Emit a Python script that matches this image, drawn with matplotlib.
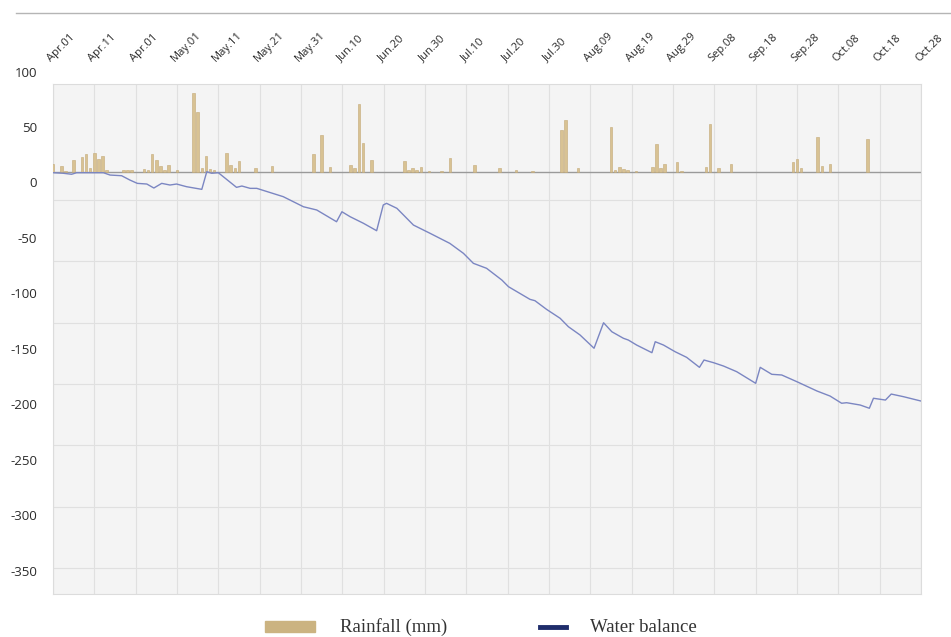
import matplotlib
matplotlib.use("Agg")
from matplotlib import pyplot as plt
from matplotlib.patches import Rectangle
from matplotlib.lines import Line2D
import matplotlib.transforms as mtransforms

# tick labels along the top, one every 10 days starting Apr.01
date_labels = ["Apr.01", "Apr.11", "Apr.01", "May.01", "May.11", "May.21", "May.31",
               "Jun.10", "Jun.20", "Jun.30", "Jul.10", "Jul.20", "Jul.30", "Aug.09",
               "Aug.19", "Aug.29", "Sep.08", "Sep.18", "Sep.28", "Oct.08", "Oct.18", "Oct.28"]
label_days = [i * 10 for i in range(len(date_labels))]

y_labels = [100, 50, 0, -50, -100, -150, -200, -250, -300, -350]

# daily rainfall (mm), day 0 = Apr.01
rain_days = [0, 2, 3, 5, 7, 8, 9, 10, 11, 12, 13, 17, 18, 19, 22, 23, 24, 25, 26, 27, 28, 30,
             34, 35, 36, 37, 38, 39, 42, 43, 44, 45, 49, 53, 63, 65, 67, 72, 73, 74, 75, 77,
             85, 86, 87, 88, 89, 91, 94, 96, 102, 108, 112, 116, 123, 124, 127, 135, 136, 137,
             138, 139, 141, 145, 146, 147, 148, 151, 152, 158, 159, 161, 164, 179, 180, 181,
             185, 186, 188, 197]
rain_mm = [7.2, 5.9, 1.4, 11.1, 14.2, 16.5, 4.2, 17.8, 12.0, 14.4, 1.8, 1.8, 1.8, 1.8, 3.0, 2.0,
           16.2, 10.8, 5.7, 2.1, 6.6, 1.8, 71.2, 54.0, 3.6, 14.7, 2.7, 2.4, 17.1, 6.6, 3.6, 10.2,
           3.6, 6.0, 16.5, 33.7, 4.8, 6.6, 4.2, 61.6, 26.1, 11.1, 10.5, 2.1, 3.6, 2.1, 4.8, 1.2,
           1.2, 13.2, 6.6, 3.9, 1.8, 1.5, 38.2, 47.2, 4.2, 40.6, 1.8, 5.1, 2.7, 2.4, 1.2, 4.8,
           25.5, 3.6, 7.5, 9.6, 1.3, 4.8, 43.3, 3.6, 7.5, 9.6, 12.0, 3.6, 32.2, 6.0, 7.2, 29.8]

# cumulative water balance
wb_days = [0, 2.5, 4.5, 5.7, 12.2, 13.8, 16.6, 18.6, 20.4, 22.7, 24.4, 26.3, 28.3, 29.9, 32.3,
           36.0, 37.2, 38.4, 40.0, 42.0, 44.4, 45.7, 47.7, 49.3, 55.7, 60.6, 63.8, 68.6, 69.9,
           71.9, 75.1, 78.3, 79.9, 80.7, 83.2, 87.2, 91.2, 96.0, 99.3, 101.7, 104.9, 108.6,
           110.2, 115.4, 116.6, 119.4, 122.7, 124.7, 127.5, 130.9, 133.2, 135.2, 138.0, 139.2,
           141.2, 144.9, 145.7, 147.7, 150.5, 153.3, 156.4, 157.5, 159.8, 162.2, 165.4, 170.0,
           171.1, 173.9, 176.3, 180.0, 184.8, 188.0, 190.8, 192.0, 195.3, 197.5, 198.5, 201.4,
           202.8, 205.8, 210.0]
wb_values = [10.1, 9.6, 8.7, 10.1, 10.1, 8.0, 7.4, 3.5, 0.5, -0.1, -3.7, 0.5, -1.0, -0.1, -2.5,
             -4.9, 11.0, 9.6, 10.1, 4.1, -3.1, -1.9, -4.0, -4.0, -11.5, -20.6, -23.5, -34.1,
             -25.1, -29.6, -35.5, -42.2, -19.0, -17.5, -22.0, -37.1, -44.5, -53.6, -62.6, -71.6,
             -76.1, -86.7, -92.7, -104.1, -105.3, -113.1, -121.2, -128.8, -136.2, -148.2,
             -125.2, -133.3, -139.2, -140.8, -145.3, -152.2, -142.3, -145.3, -151.3, -156.4,
             -165.4, -158.8, -161.2, -164.2, -169.3, -179.8, -165.4, -171.7, -172.3, -178.4,
             -186.7, -191.3, -197.8, -197.3, -199.4, -202.3, -193.3, -194.9, -189.5, -191.9,
             -195.8]

rain_base = 10.5          # rainfall bars stand on this line
grid_levels = [-14.5, -69.8, -125.1, -180.4, -235.7, -291.0, -346.3]

tick_font = "Open Sans"
bar_color = "#d8c293"
line_color = "#7b86c2"

fig = plt.figure(figsize=(9.51, 6.37), dpi=100)
ax = fig.add_axes([53 / 951, 1 - 594 / 637, 868 / 951, 510 / 637])
ax.set_facecolor("#f4f4f4")
ax.set_xlim(0, 210)
ax.set_ylim(-369.8, 90.1)

for d in label_days:
    ax.axvline(d, color="#e0e0e0", lw=0.8, zorder=0)
for g in grid_levels:
    ax.axhline(g, color="#e0e0e0", lw=0.8, zorder=0)
ax.axhline(rain_base, color="#9a9a9a", lw=1.0, zorder=2)

ax.bar(rain_days, rain_mm, bottom=rain_base, width=0.6, color=bar_color,
       edgecolor="#c3a977", linewidth=0.4, zorder=3)
ax.plot(wb_days, wb_values, color=line_color, lw=1.0, zorder=4)

ax.set_xticks([])
ax.set_yticks([])
for s in ax.spines.values():
    s.set_color("#dcdcdc")
    s.set_linewidth(0.8)

# y labels (the top one sits above the plot frame)
ytrans = ax.get_yaxis_transform()
for v in y_labels:
    ax.text(-16 / 868, v, str(v), transform=ytrans, ha="right", va="center",
            fontsize=9.5, family=tick_font, color="#2b2b2b", clip_on=False)

# rotated date labels above the frame
xtrans = mtransforms.blended_transform_factory(ax.transData, ax.transAxes)
for d, lab in zip(label_days, date_labels):
    ax.text(d, 1 + 20 / 510, lab, transform=xtrans, rotation=45, rotation_mode="anchor",
            ha="left", va="bottom", fontsize=8, family=tick_font, color="#2b2b2b",
            clip_on=False)

# separator line at the top
fig.add_artist(Line2D([16 / 951, 1], [1 - 13 / 637, 1 - 13 / 637], color="#b5b5b5", lw=1.0))

# legend
fig.add_artist(Rectangle((265 / 951, 1 - 632 / 637), 50 / 951, 11 / 637, color="#cbb381"))
fig.text(340 / 951, 1 - 627 / 637, "Rainfall (mm)", family="Liberation Serif",
         fontsize=13.5, va="center", ha="left", color="#333333")
fig.add_artist(Line2D([540 / 951, 566 / 951], [1 - 627 / 637, 1 - 627 / 637],
                      color="#1f2d6b", lw=3.5))
fig.text(590 / 951, 1 - 627 / 637, "Water balance", family="Liberation Serif",
         fontsize=13.5, va="center", ha="left", color="#333333")

plt.savefig("out.png", dpi=100)
